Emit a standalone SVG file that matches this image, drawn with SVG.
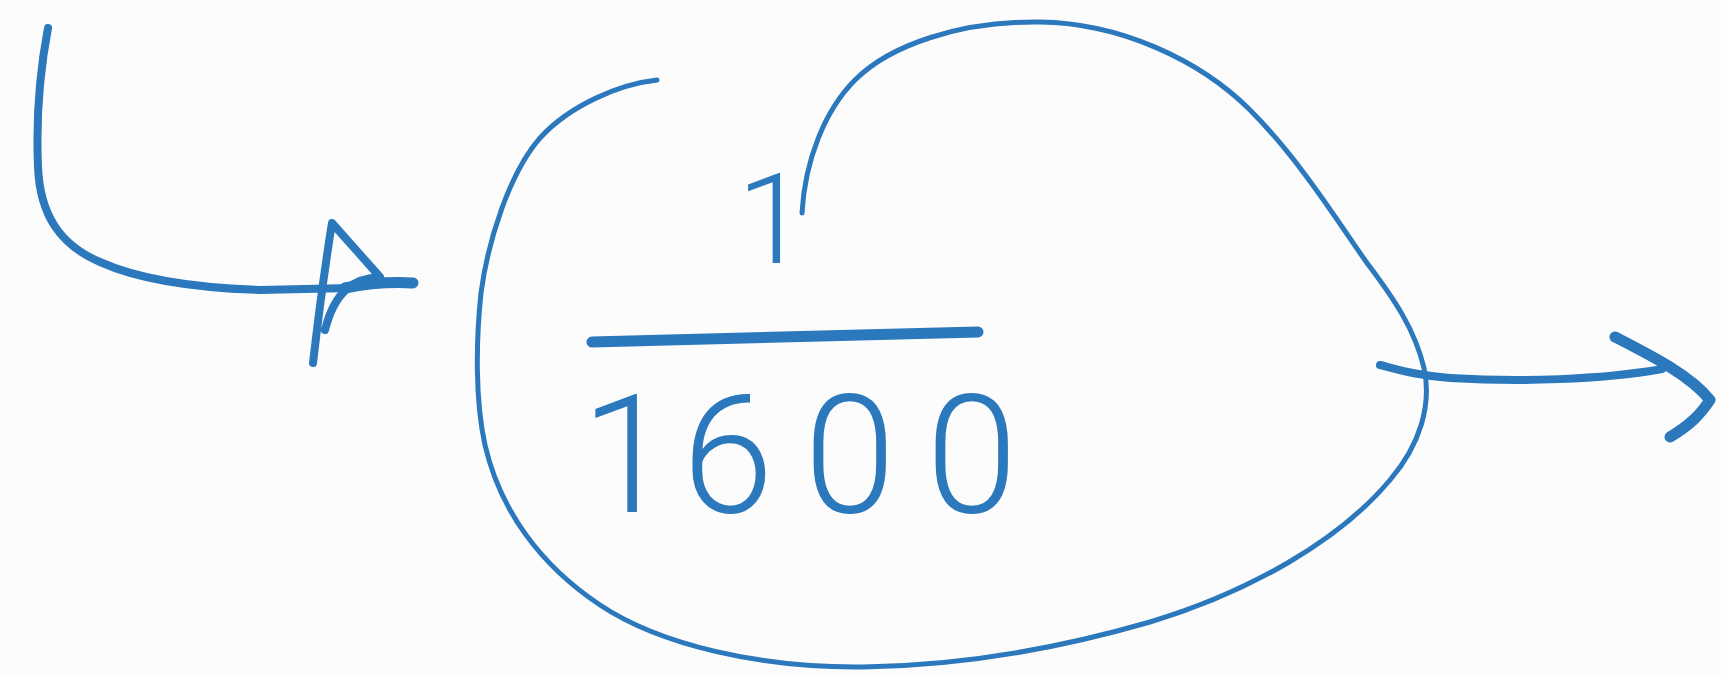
<svg xmlns="http://www.w3.org/2000/svg" width="1721" height="676" viewBox="0 0 1721 676">
<style>
.ink{fill:none;stroke:#2b78bc;stroke-linecap:round;stroke-linejoin:round}
.thin{stroke-width:5}
.mid{stroke-width:8}
.thick{stroke-width:11}
.num{fill:#2b78bc;font-family:Roboto,"Open Sans","Liberation Sans",sans-serif;font-weight:300}
</style>
<rect width="1721" height="676" fill="#fcfcfd"/>
<g id="connectors">
<g id="input-arrow">
<path class="ink mid" d="M48,28 C40,70 36,120 38,167 C40,215 60,245 100,262 C140,280 200,288 260,290 L350,288"/>
<path class="ink thick" d="M345,288 C370,283 395,282 413,283"/>
<path class="ink mid" d="M313,363 C318,320 326,260 332,223 L380,277 C355,278 335,290 325,330"/>
</g>
<g id="output-arrow">
<path class="ink mid" d="M1380,365 C1400,370 1420,376 1450,378 C1520,382 1600,380 1662,369"/>
<path class="ink thick" d="M1615,337 C1650,355 1690,375 1710,400 C1700,415 1690,425 1670,437"/>
</g>
</g>
<g id="node-gain">
<path class="ink thin" d="M657,80 C620,84 570,105 540,138 C510,172 488,240 481,293 C476,340 475,400 485,445 C500,510 540,565 600,605 C660,645 760,668 863,667 C960,666 1060,648 1150,622 C1250,592 1340,540 1390,480 C1420,445 1432,405 1424,368 C1415,330 1395,300 1367,263 C1340,225 1300,160 1250,110 C1200,60 1120,23 1040,22 C960,21 890,45 855,80 C825,110 805,160 802,213"/>
<text class="num" x="737" y="263" font-size="127">1</text>
<path class="ink thick" d="M592,342 L978,332"/>
<text class="num" x="581 682 804 926" y="512" font-size="165">1600</text>
</g>
</svg>
